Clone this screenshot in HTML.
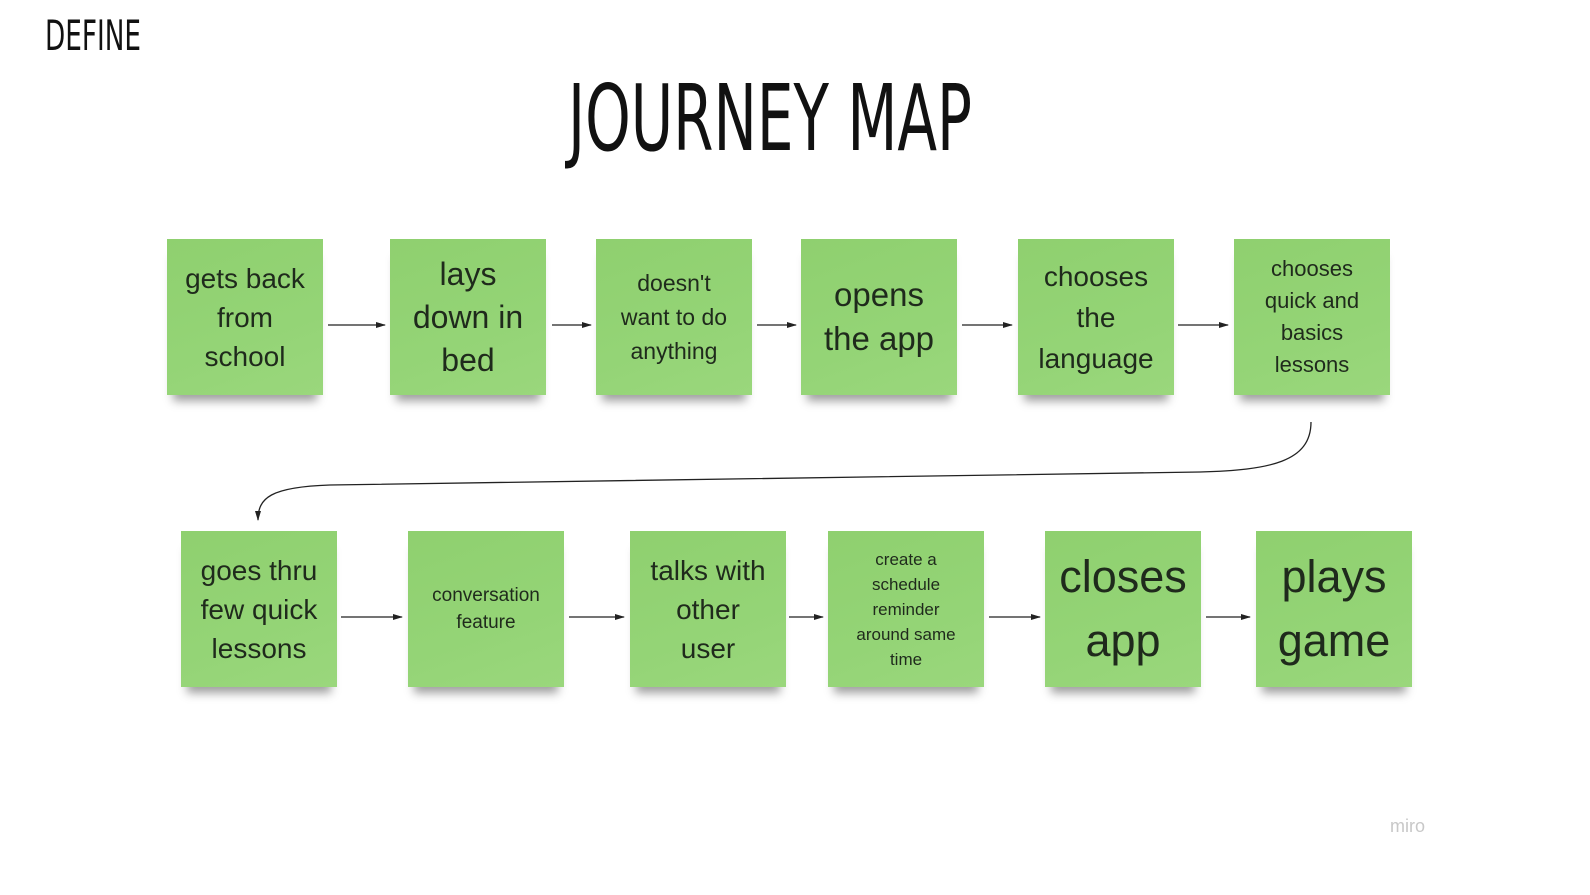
<!DOCTYPE html>
<html><head><meta charset="utf-8"><style>
body{margin:0;width:1590px;height:895px;background:#fff;position:relative;overflow:hidden;font-family:"Liberation Sans","DejaVu Sans",sans-serif;}
.n{position:absolute;width:156px;height:156px;background:linear-gradient(160deg,#8fd06f,#94d476 60%,#9ad77c);box-shadow:0 12px 9px -6px rgba(0,0,0,.38);display:flex;align-items:center;justify-content:center;text-align:center;color:#1f2a1c;}
.n div{width:150px}
svg{position:absolute;left:0;top:0}
</style></head><body>
<svg width="1590" height="895">
<defs><marker id="a" markerWidth="10" markerHeight="8" refX="9" refY="4" orient="auto" markerUnits="userSpaceOnUse"><path d="M0,1 L10,4 L0,7 Z" fill="#222"/></marker></defs>
<text x="45" y="50" font-family="DejaVu Sans" font-size="42" textLength="96" lengthAdjust="spacingAndGlyphs" fill="#111">DEFINE</text>
<text x="568" y="150" font-family="DejaVu Sans" font-size="92" textLength="404" lengthAdjust="spacingAndGlyphs" fill="#111">JOURNEY MAP</text>
<g stroke="#222" stroke-width="1.3" fill="none" marker-end="url(#a)">
<line x1="328" y1="325" x2="385" y2="325"/>
<line x1="552" y1="325" x2="591" y2="325"/>
<line x1="757" y1="325" x2="796" y2="325"/>
<line x1="962" y1="325" x2="1012" y2="325"/>
<line x1="1178" y1="325" x2="1228" y2="325"/>
<line x1="341" y1="617" x2="402" y2="617"/>
<line x1="569" y1="617" x2="624" y2="617"/>
<line x1="789" y1="617" x2="823" y2="617"/>
<line x1="989" y1="617" x2="1040" y2="617"/>
<line x1="1206" y1="617" x2="1250" y2="617"/>
<path d="M1311 422 C1311 462 1270 470 1200 472 L330 485 C270 487 258 498 258 520"/>
</g>
<text x="1390" y="832" font-size="18" fill="#c8c8c8">miro</text>
</svg>
<div class="n" style="left:167px;top:239px;font-size:28px;line-height:39px"><div>gets back<br>from<br>school</div></div>
<div class="n" style="left:390px;top:239px;font-size:32px;line-height:43px"><div>lays<br>down in<br>bed</div></div>
<div class="n" style="left:596px;top:239px;font-size:23px;line-height:34px"><div>doesn't<br>want to do<br>anything</div></div>
<div class="n" style="left:801px;top:239px;font-size:33px;line-height:44px"><div>opens<br>the app</div></div>
<div class="n" style="left:1018px;top:239px;font-size:28px;line-height:41px"><div>chooses<br>the<br>language</div></div>
<div class="n" style="left:1234px;top:239px;font-size:22px;line-height:32px"><div>chooses<br>quick and<br>basics<br>lessons</div></div>
<div class="n" style="left:181px;top:531px;font-size:28px;line-height:39px"><div>goes thru<br>few quick<br>lessons</div></div>
<div class="n" style="left:408px;top:531px;font-size:19px;line-height:27px"><div>conversation<br>feature</div></div>
<div class="n" style="left:630px;top:531px;font-size:28px;line-height:39px"><div>talks with<br>other<br>user</div></div>
<div class="n" style="left:828px;top:531px;font-size:17px;line-height:25px"><div>create a<br>schedule<br>reminder<br>around same<br>time</div></div>
<div class="n" style="left:1045px;top:531px;font-size:45px;line-height:64px"><div>closes<br>app</div></div>
<div class="n" style="left:1256px;top:531px;font-size:45px;line-height:64px"><div>plays<br>game</div></div>
</body></html>
